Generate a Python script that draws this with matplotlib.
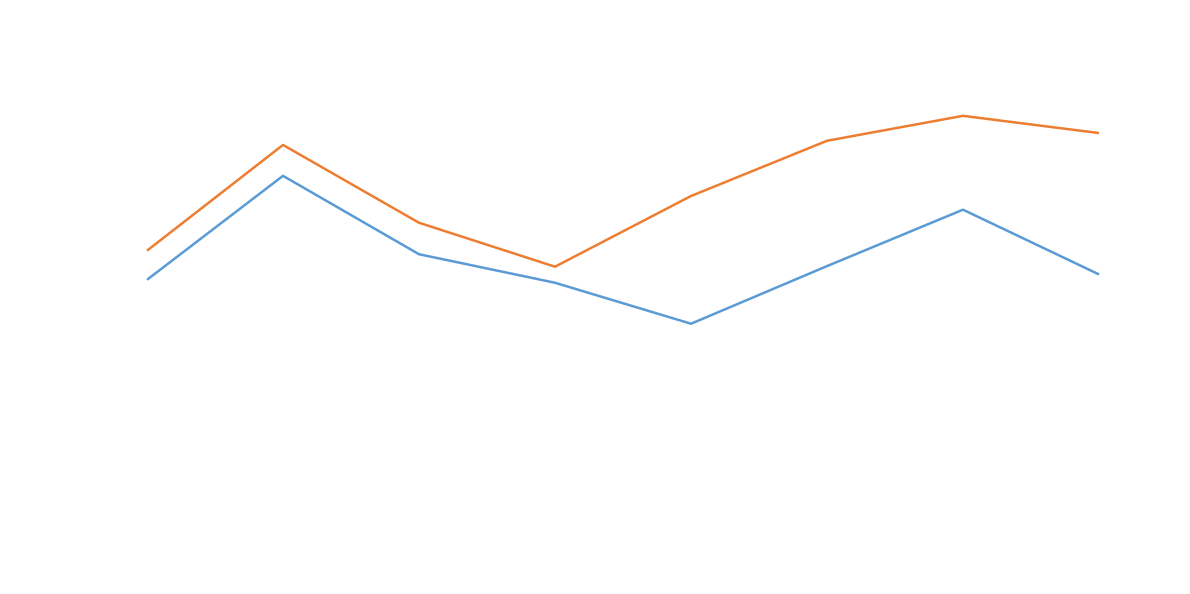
import matplotlib
matplotlib.use("Agg")
import matplotlib.pyplot as plt

# values (arbitrary units, 0-100 over the image height)
points = list(range(8))
series_blue = [52.9, 70.4, 57.2, 52.4, 45.5, 55.2, 64.7, 53.8]
series_orange = [57.8, 75.6, 62.5, 55.1, 67.0, 76.3, 80.5, 77.6]

fig = plt.figure(figsize=(11.9, 5.94), dpi=100)
ax = fig.add_axes([0, 0, 1, 1])
ax.plot(points, series_blue, color="#5B9BD5", lw=1.8, solid_capstyle="butt")
ax.plot(points, series_orange, color="#ED7D31", lw=1.8, solid_capstyle="butt")

ax.set_xlim(-147 / 136, (1190 - 147) / 136)
ax.set_ylim(0, 100)
ax.axis("off")

fig.savefig("out.png", dpi=100, facecolor="white")
plt.close(fig)
print("Saved out.png")
